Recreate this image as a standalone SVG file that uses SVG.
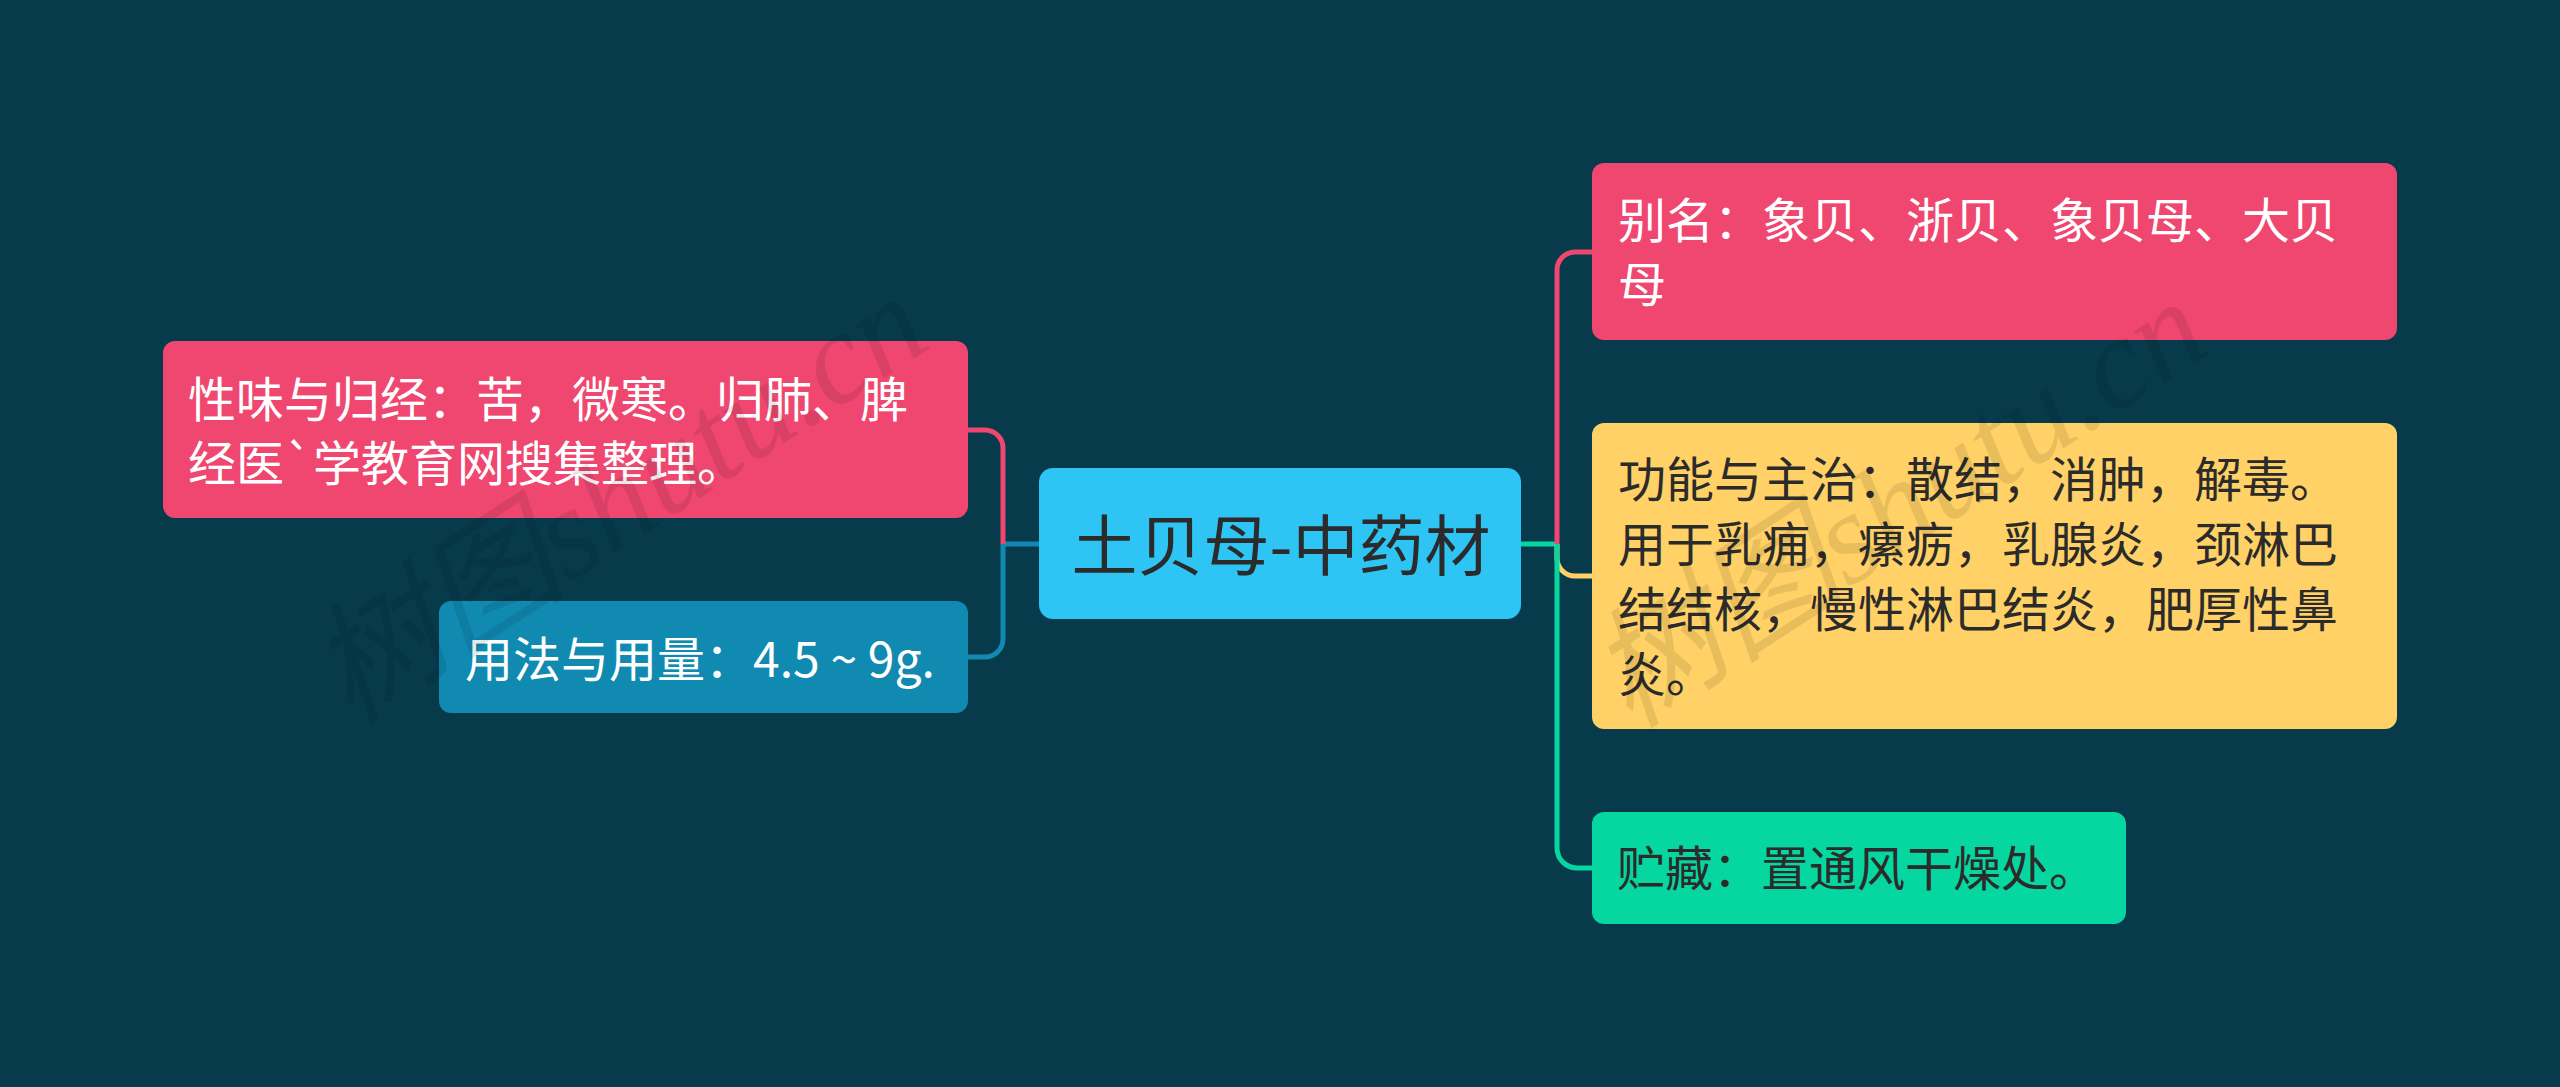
<svg xmlns="http://www.w3.org/2000/svg" width="2560" height="1087" viewBox="0 0 2560 1087">
<style>
.t{font-family:"Microsoft YaHei","Noto Sans CJK SC","Noto Sans",sans-serif;font-size:48px}
.w{fill:#ffffff}
.d{fill:#2b2b2b}
.c{fill:none;stroke-width:5;stroke-linecap:butt}
.wm{font-family:"Liberation Serif","Noto Sans CJK SC",serif;font-size:130px;font-style:italic;fill:#000;fill-opacity:0.09}
</style>
<rect x="0" y="0" width="2560" height="1087" fill="#073B4C"/>
<g id="connectors">
<path class="c" stroke="#118AB2" d="M1039,544 H1003"/>
<path class="c" stroke="#EF476F" d="M968,430 H985 A18,18 0 0 1 1003,448 V544"/>
<path class="c" stroke="#118AB2" d="M1003,544 V639 A18,18 0 0 1 985,657 H968"/>
<path class="c" stroke="#06D6A0" d="M1521,544 H1557"/>
<path class="c" stroke="#EF476F" d="M1557,544 V270 A18,18 0 0 1 1575,252 H1592"/>
<path class="c" stroke="#FFD166" d="M1557,544 V558 A18,18 0 0 0 1575,576 H1592"/>
<path class="c" stroke="#06D6A0" d="M1557,544 V848 A20,20 0 0 0 1577,868 H1592"/>
</g>
<g id="root">
<rect x="1039" y="468" width="482" height="151" rx="14" fill="#2EC4F3"/>
<text class="t d" x="1281" y="570" text-anchor="middle" style="font-size:66px">土贝母-中药材</text>
</g>
<g id="node-xingwei">
<rect x="163" y="341" width="805" height="177" rx="12" fill="#EF476F"/>
<text class="t w" x="188" y="417">性味与归经：苦，微寒。归肺、脾</text>
<text class="t w" x="188" y="481">经医`学教育网搜集整理。</text>
</g>
<g id="node-yongfa">
<rect x="439" y="601" width="529" height="112" rx="12" fill="#118AB2"/>
<text class="t w" x="465" y="677">用法与用量：4.5 ~ 9g.</text>
</g>
<g id="node-bieming">
<rect x="1592" y="163" width="805" height="177" rx="12" fill="#EF476F"/>
<text class="t w" x="1618" y="238">别名：象贝、浙贝、象贝母、大贝</text>
<text class="t w" x="1618" y="302">母</text>
</g>
<g id="node-gongneng">
<rect x="1592" y="423" width="805" height="306" rx="12" fill="#FFD166"/>
<text class="t d" x="1618" y="497">功能与主治：散结，消肿，解毒。</text>
<text class="t d" x="1618" y="562">用于乳痈，瘰疬，乳腺炎，颈淋巴</text>
<text class="t d" x="1618" y="627">结结核，慢性淋巴结炎，肥厚性鼻</text>
<text class="t d" x="1618" y="692">炎。</text>
</g>
<g id="node-zhucang">
<rect x="1592" y="812" width="534" height="112" rx="12" fill="#06D6A0"/>
<text class="t d" x="1617" y="886">贮藏：置通风干燥处。</text>
</g>
<g id="watermark">
<text class="wm" transform="translate(350,725) rotate(-33)">树图shutu.cn</text>
<text class="wm" transform="translate(1630,730) rotate(-33)">树图shutu.cn</text>
</g>
</svg>
